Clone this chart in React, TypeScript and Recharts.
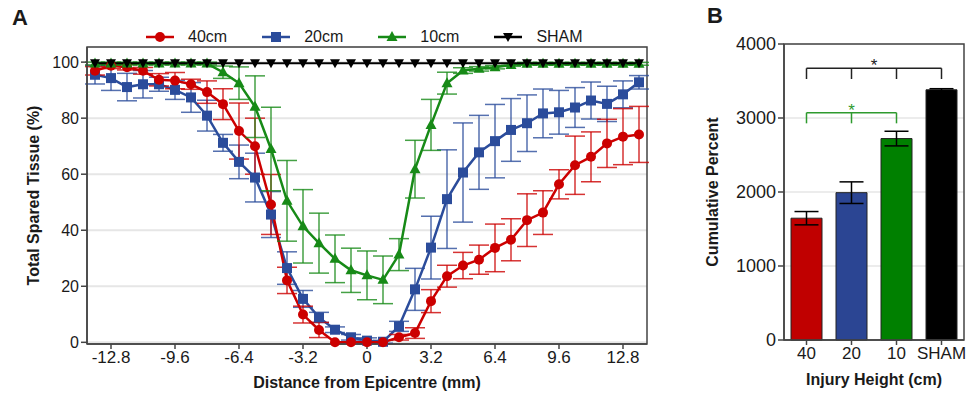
import {
  LineChart, Line, BarChart, Bar, Cell, XAxis, YAxis, CartesianGrid, ErrorBar,
  ReferenceArea, ReferenceLine,
} from 'recharts'

// distance from epicentre (mm)
const distances = [
  -13.6, -12.8, -12.0, -11.2, -10.4, -9.6, -8.8, -8.0, -7.2, -6.4, -5.6, -4.8, -4.0, -3.2, -2.4, -1.6, -0.8, 0,
  0.8, 1.6, 2.4, 3.2, 4.0, 4.8, 5.6, 6.4, 7.2, 8.0, 8.8, 9.6, 10.4, 11.2, 12.0, 12.8, 13.6,
]
const spared40 = [
  96.9, 98.7, 98.2, 96.9, 93.7, 93.4, 92.1, 89.3, 85.0, 75.4, 70.0, 49.2, 22.1, 9.9, 4.4, 0, 0, 0,
  0, 1.8, 3.3, 14.7, 23.6, 27.4, 29.5, 33.7, 36.6, 43.6, 46.3, 56.4, 63.2, 66.2, 71.0, 73.4, 74.2,
]
const err40 = [
  1.5, 1, 1, 1.2, 2.2, 2.9, 1.8, 4, 5.5, 10, 10, 10.7, 4.7, 3, 2.7, 0, 0, 0,
  0, 1, 1.9, 4.1, 3.9, 4.7, 5.2, 8.5, 7.5, 9.4, 7.8, 5.2, 10.4, 8.9, 8.6, 10, 10,
]
const spared20 = [
  95.5, 94.3, 91.1, 92.1, 92.1, 90.1, 87.4, 80.9, 71.2, 64.4, 58.8, 45.6, 26.5, 15.5, 8.9, 4.5, 1.8, 0.6,
  0.2, 5.7, 18.9, 33.8, 51.1, 60.6, 67.8, 71.8, 75.8, 78.2, 81.7, 82.1, 83.8, 86.3, 85.1, 88.5, 92.8,
]
const err20 = [
  3.3, 4.4, 4.9, 4.9, 2.5, 3.4, 5.3, 5.5, 3, 6, 8.7, 8.2, 5.8, 3, 1.8, 1, 1, 1,
  0.5, 1.8, 7.5, 11.2, 17.6, 17.7, 13.2, 13.1, 11.2, 10.1, 8.7, 7.8, 7.1, 6.6, 6.3, 4.8, 2.4,
]
const spared10 = [
  99.5, 99.5, 99.5, 99.5, 99.5, 99.5, 99.5, 99.5, 96.4, 92.5, 84.1, 69.0, 50.5, 41.4, 35.4, 29.8, 25.7, 23.9,
  22.3, 31.3, 61.8, 77.6, 92.5, 97.0, 97.6, 98.2, 99.0, 99.4, 99.4, 99.4, 99.4, 99.4, 99.4, 99.4, 99.4,
]
const err10 = [
  0.5, 0.5, 0.5, 0.5, 0.5, 0.5, 0.5, 0.5, 2.2, 5.8, 11, 14.9, 14.4, 13.1, 10.7, 8.5, 7.9, 8.7,
  8.5, 5.7, 10.3, 9.1, 3.9, 1, 0.8, 0.6, 0.5, 0.5, 0.5, 0.5, 0.5, 0.5, 0.5, 0.5, 0.5,
]
const sparedSham = [
  99.6, 99.6, 99.6, 99.6, 99.6, 99.6, 99.6, 99.6, 99.6, 99.6, 99.6, 99.6, 99.6, 99.6, 99.6, 99.6, 99.6, 99.6,
  99.6, 99.6, 99.6, 99.6, 99.6, 99.6, 99.6, 99.6, 99.6, 99.6, 99.6, 99.6, 99.6, 99.6, 99.6, 99.6, 99.6,
]
const distanceTicks = [-12.8, -9.6, -6.4, -3.2, 0, 3.2, 6.4, 9.6, 12.8]
const percentTicks = [0, 20, 40, 60, 80, 100]

// panel B
const heights = ['40', '20', '10', 'SHAM']
const cumulative = [1646, 1991, 2722, 3381]
const cumulativeErr = [90, 146, 99, 15]
const barColors = ['#C00000', '#2B4593', '#008000', '#000000']
const cumulativeTicks = [0, 1000, 2000, 3000, 4000]
// significance brackets: [bar y, tick end y]
const sigAll = [3672, 3527]
const sigTen = [3072, 2928]

const RED = '#CC0000'
const BLUE = '#2B4C9B'
const GREEN = '#178A17'
const SIG_GREEN = '#2E9A2E'
const FONT = '"Liberation Sans", Arial, sans-serif'
const TEXT = '#1a1a1a'
const AXIS = '#444'

const lineData = distances.map((d, i) => ({
  d,
  s40: spared40[i], e40: err40[i],
  s20: spared20[i], e20: err20[i],
  s10: spared10[i], e10: err10[i],
  sham: sparedSham[i],
}))

const barData = heights.map((h, i) => ({ h, v: cumulative[i], e: cumulativeErr[i] }))

const squareDot = (color: string) => (p: any) => (
  <rect key={p.index} x={p.cx - 5} y={p.cy - 5} width={10} height={10} fill={color} />
)
const triUpDot = (color: string) => (p: any) => (
  <polygon key={p.index} points={`${p.cx},${p.cy - 6} ${p.cx - 5.5},${p.cy + 4} ${p.cx + 5.5},${p.cy + 4}`} fill={color} />
)
const triDownDot = (color: string) => (p: any) => (
  <polygon key={p.index} points={`${p.cx - 5},${p.cy - 4} ${p.cx + 5},${p.cy - 4} ${p.cx},${p.cy + 5}`} fill={color} />
)

const legendItems = [
  { name: '40cm', color: RED, shape: 'circle' },
  { name: '20cm', color: BLUE, shape: 'square' },
  { name: '10cm', color: GREEN, shape: 'up' },
  { name: 'SHAM', color: '#000', shape: 'down' },
]

function LegendIcon({ color, shape }: { color: string; shape: string }) {
  return (
    <svg width={28} height={14} style={{ display: 'block' }}>
      <line x1={0} y1={7} x2={28} y2={7} stroke={color} strokeWidth={2.5} />
      {shape === 'circle' && <circle cx={14} cy={7} r={5} fill={color} />}
      {shape === 'square' && <rect x={9} y={2} width={10} height={10} fill={color} />}
      {shape === 'up' && <polygon points="14,1 8.5,11 19.5,11" fill={color} />}
      {shape === 'down' && <polygon points="9,3 19,3 14,12" fill={color} />}
    </svg>
  )
}

const tickStyle = { fontSize: 16, fill: TEXT, fontFamily: FONT }
const titleStyle = { fontSize: 16, fontWeight: 'bold', fill: TEXT, fontFamily: FONT }

function SparedTissueChart() {
  return (
    <LineChart width={660} height={395} data={lineData} margin={{ top: 47, right: 13, bottom: 0, left: 0 }}>
      <CartesianGrid vertical={false} stroke="#e6e6e6" strokeWidth={2} />
      <XAxis
        dataKey="d" type="number" domain={[-14, 14]} ticks={distanceTicks}
        tick={{ ...tickStyle, fontSize: 17 }} tickSize={5} height={51}
        axisLine={{ stroke: AXIS, strokeWidth: 1.5 }} tickLine={{ stroke: AXIS, strokeWidth: 1.5 }}
        label={{ value: 'Distance from Epicentre (mm)', position: 'insideBottom', offset: 7, style: titleStyle }}
      />
      <YAxis
        type="number" domain={[-0.6, 105.4]} ticks={percentTicks} width={87}
        tick={tickStyle} tickSize={6}
        axisLine={{ stroke: AXIS, strokeWidth: 1.5 }} tickLine={{ stroke: AXIS, strokeWidth: 1.5 }}
        label={{ value: 'Total Spared Tissue (%)', angle: -90, position: 'insideLeft', offset: 33, style: { ...titleStyle, textAnchor: 'middle' } }}
      />
      <ReferenceArea x1={-14} x2={14} y1={-0.6} y2={105.4} fill="none" stroke={AXIS} strokeWidth={1.5} />
      <Line dataKey="s20" stroke={BLUE} strokeWidth={2.5} dot={squareDot(BLUE)} isAnimationActive={false}>
        <ErrorBar dataKey="e20" width={10} stroke={BLUE} strokeWidth={1.5} strokeOpacity={0.8} />
      </Line>
      <Line dataKey="s40" stroke={RED} strokeWidth={2.5} dot={{ r: 5, fill: RED, stroke: RED, strokeWidth: 0 }} isAnimationActive={false}>
        <ErrorBar dataKey="e40" width={10} stroke={RED} strokeWidth={1.5} strokeOpacity={0.8} />
      </Line>
      <Line dataKey="s10" stroke={GREEN} strokeWidth={2.5} dot={triUpDot(GREEN)} isAnimationActive={false}>
        <ErrorBar dataKey="e10" width={10} stroke={GREEN} strokeWidth={1.5} strokeOpacity={0.8} />
      </Line>
      <Line dataKey="sham" stroke="#000" strokeWidth={2} dot={triDownDot('#000')} isAnimationActive={false} />
    </LineChart>
  )
}

function CumulativeChart() {
  return (
    <BarChart width={279} height={395} data={barData} margin={{ top: 44, right: 5, bottom: 0, left: 0 }} barSize={31}>
      <CartesianGrid vertical={false} stroke="#e6e6e6" strokeWidth={1.5} />
      <XAxis
        dataKey="h" tick={{ ...tickStyle, fontSize: 17 }} tickSize={5} height={55}
        axisLine={{ stroke: AXIS, strokeWidth: 1.5 }} tickLine={{ stroke: AXIS, strokeWidth: 1.5 }}
        label={{ value: 'Injury Height (cm)', position: 'insideBottom', offset: 10, style: titleStyle }}
      />
      <YAxis
        domain={[0, 4000]} ticks={cumulativeTicks} width={94}
        tick={{ ...tickStyle, fontSize: 18 }} tickSize={6}
        axisLine={{ stroke: AXIS, strokeWidth: 1.5 }} tickLine={{ stroke: AXIS, strokeWidth: 1.5 }}
        label={{ value: 'Cumulative Percent', angle: -90, position: 'insideLeft', offset: 22, style: { ...titleStyle, textAnchor: 'middle' } }}
      />
      <ReferenceArea y1={0} y2={4000} fill="none" stroke={AXIS} strokeWidth={1.5} />
      <Bar dataKey="v" stroke="#222" strokeWidth={1} isAnimationActive={false}>
        {barData.map((row, i) => <Cell key={row.h} fill={barColors[i]} />)}
        <ErrorBar dataKey="e" width={12} stroke="#000" strokeWidth={1.5} />
      </Bar>
      <ReferenceLine
        segment={[{ x: heights[0], y: sigAll[0] }, { x: heights[3], y: sigAll[0] }]}
        stroke="#222" strokeWidth={1.5}
        label={{ value: '*', position: 'top', offset: -3, style: { fontSize: 17, fill: '#222', fontFamily: FONT } }}
      />
      {heights.map(h => (
        <ReferenceLine key={h} segment={[{ x: h, y: sigAll[0] }, { x: h, y: sigAll[1] }]} stroke="#222" strokeWidth={1.5} />
      ))}
      <ReferenceLine
        segment={[{ x: heights[0], y: sigTen[0] }, { x: heights[2], y: sigTen[0] }]}
        stroke={SIG_GREEN} strokeWidth={1.5}
        label={{ value: '*', position: 'top', offset: -3, style: { fontSize: 17, fill: SIG_GREEN, fontFamily: FONT } }}
      />
      {heights.slice(0, 3).map(h => (
        <ReferenceLine key={h} segment={[{ x: h, y: sigTen[0] }, { x: h, y: sigTen[1] }]} stroke={SIG_GREEN} strokeWidth={1.5} />
      ))}
    </BarChart>
  )
}

export default function App() {
  return (
    <div style={{ position: 'absolute', left: 0, top: 0, width: 969, height: 395, background: '#fff', fontFamily: FONT, color: TEXT }}>
      <div style={{ position: 'absolute', left: 12, top: 7, fontSize: 22, lineHeight: '22px', fontWeight: 'bold' }}>A</div>
      <div style={{ position: 'absolute', left: 707, top: 5, fontSize: 22, lineHeight: '22px', fontWeight: 'bold' }}>B</div>
      <div style={{ position: 'absolute', left: 146, top: 28, display: 'flex', gap: 35, fontSize: 16, lineHeight: '18px' }}>
        {legendItems.map(item => (
          <div key={item.name} style={{ display: 'flex', alignItems: 'center', gap: 14 }}>
            <LegendIcon color={item.color} shape={item.shape} />
            <span>{item.name}</span>
          </div>
        ))}
      </div>
      <div style={{ position: 'absolute', left: 0, top: 0 }}>
        <SparedTissueChart />
      </div>
      <div style={{ position: 'absolute', left: 690, top: 0 }}>
        <CumulativeChart />
      </div>
    </div>
  )
}
